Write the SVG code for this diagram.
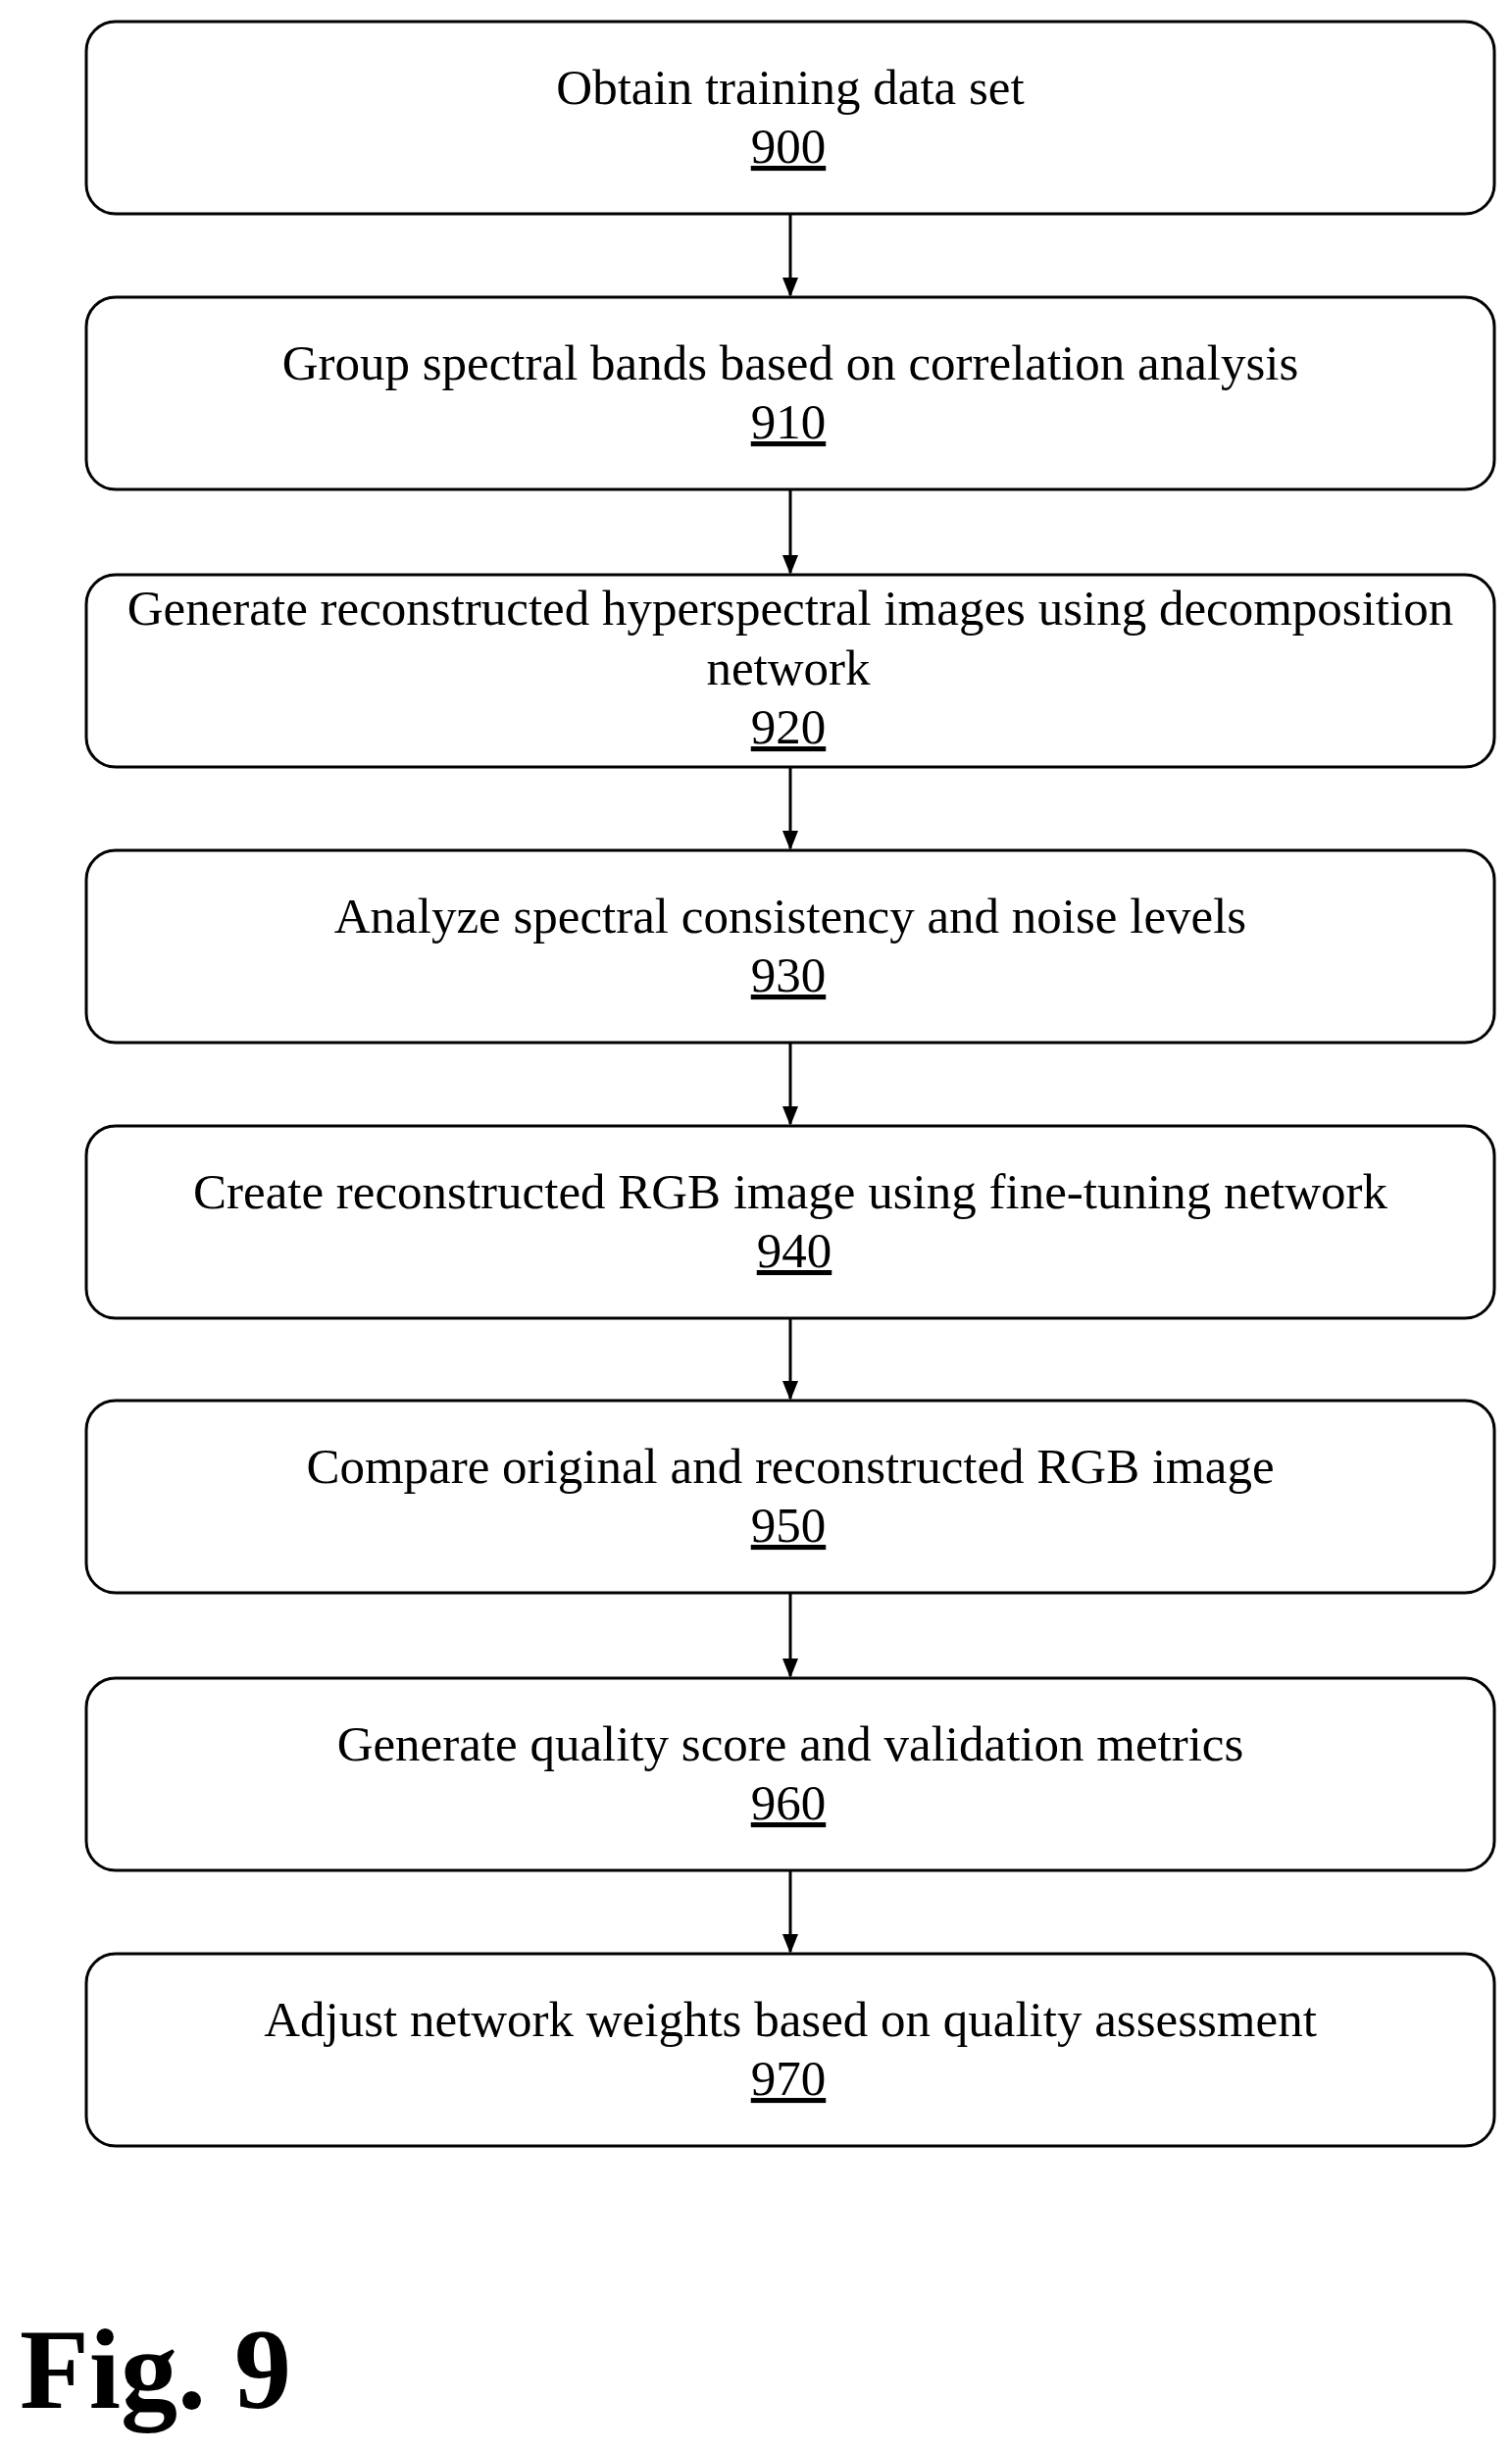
<svg xmlns="http://www.w3.org/2000/svg" width="1542" height="2499" viewBox="0 0 1542 2499">
<style>
.b{fill:#fff;stroke:#000;stroke-width:3}
.t{font-family:"Liberation Serif",serif;font-size:51px;text-anchor:middle}
.n{text-decoration:underline}
.c{stroke:#000;stroke-width:3;fill:none}
</style>
<defs><marker id="a" markerWidth="20" markerHeight="20" refX="18" refY="8" orient="auto" markerUnits="userSpaceOnUse" viewBox="0 0 20 16"><path d="M0,0L20,8L0,16z" fill="#000"/></marker></defs>
<rect width="1542" height="2499" fill="#fff"/>
<g id="connectors">
<line class="c" x1="806" y1="218" x2="806" y2="301" marker-end="url(#a)"/>
<line class="c" x1="806" y1="499" x2="806" y2="584" marker-end="url(#a)"/>
<line class="c" x1="806" y1="782" x2="806" y2="865" marker-end="url(#a)"/>
<line class="c" x1="806" y1="1063" x2="806" y2="1146" marker-end="url(#a)"/>
<line class="c" x1="806" y1="1344" x2="806" y2="1426" marker-end="url(#a)"/>
<line class="c" x1="806" y1="1624" x2="806" y2="1709" marker-end="url(#a)"/>
<line class="c" x1="806" y1="1907" x2="806" y2="1990" marker-end="url(#a)"/>
</g>
<g id="n900"><rect class="b" x="88" y="22" width="1436" height="196" rx="30"/><text class="t" x="806" y="106">Obtain training data set</text><text class="t n" x="804" y="166">900</text></g>
<g id="n910"><rect class="b" x="88" y="303" width="1436" height="196" rx="30"/><text class="t" x="806" y="387">Group spectral bands based on correlation analysis</text><text class="t n" x="804" y="447">910</text></g>
<g id="n920"><rect class="b" x="88" y="586" width="1436" height="196" rx="30"/><text class="t" x="806" y="637">Generate reconstructed hyperspectral images using decomposition</text><text class="t" x="804" y="698">network</text><text class="t n" x="804" y="758">920</text></g>
<g id="n930"><rect class="b" x="88" y="867" width="1436" height="196" rx="30"/><text class="t" x="806" y="951">Analyze spectral consistency and noise levels</text><text class="t n" x="804" y="1011">930</text></g>
<g id="n940"><rect class="b" x="88" y="1148" width="1436" height="196" rx="30"/><text class="t" x="806" y="1232">Create reconstructed RGB image using fine-tuning network</text><text class="t n" x="810" y="1292">940</text></g>
<g id="n950"><rect class="b" x="88" y="1428" width="1436" height="196" rx="30"/><text class="t" x="806" y="1512">Compare original and reconstructed RGB image</text><text class="t n" x="804" y="1572">950</text></g>
<g id="n960"><rect class="b" x="88" y="1711" width="1436" height="196" rx="30"/><text class="t" x="806" y="1795">Generate quality score and validation metrics</text><text class="t n" x="804" y="1855">960</text></g>
<g id="n970"><rect class="b" x="88" y="1992" width="1436" height="196" rx="30"/><text class="t" x="806" y="2076">Adjust network weights based on quality assessment</text><text class="t n" x="804" y="2136">970</text></g>
<text x="20" y="2455" style="font-family:'Liberation Serif',serif;font-size:116px;font-weight:bold">Fig. 9</text>
</svg>
